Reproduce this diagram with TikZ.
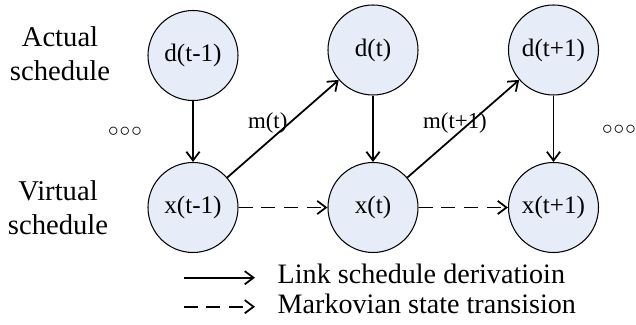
\documentclass[tikz,border=0pt]{standalone}
\usepackage{fontspec}
\setmainfont{Liberation Serif}
\usepackage{tikz}
\usetikzlibrary{arrows.meta}
\definecolor{statefill}{RGB}{230,237,248}

\begin{document}
\begin{tikzpicture}[scale=1,
    state/.style={circle, draw=black, line width=0.6pt, fill=statefill, minimum size=1.8cm, inner sep=0pt, font=\fontsize{14.3}{17}\selectfont},
    side/.style={align=center, font=\fontsize{16.3}{19.3}\selectfont},
    lab/.style={font=\fontsize{13}{15}\selectfont},
    legtext/.style={anchor=base west, font=\fontsize{16}{19}\selectfont},
    derive/.style={line width=1pt, -{Straight Barb[length=5pt,width=7.5pt]}},
    trans/.style={derive, dash pattern=on 8pt off 5pt}]
\useasboundingbox (0,0) rectangle (12.72,6.5);
\node[state] (d1) at (3.86,5.39) {d(t-1)};
\node[state] (d2) at (7.46,5.50) {d(t)};
\node[state] (d3) at (11.07,5.50) {d(t+1)};
\node[state] (x1) at (3.86,2.35) {x(t-1)};
\node[state] (x2) at (7.46,2.35) {x(t)};
\node[state] (x3) at (11.07,2.35) {x(t+1)};
\node[side] (actual) at (1.20,5.42) {Actual\\schedule};
\node[side] (virtual) at (1.16,2.34) {Virtual\\schedule};
\node[lab] (dotsl) at (2.50,3.86) {$\circ\!\circ\!\circ$};
\node[lab] (dotsr) at (12.38,3.90) {$\circ\!\circ\!\circ$};
\draw[derive] (d1) -- (x1);
\draw[derive] (d2) -- (x2);
\draw[derive] (d3) -- (x3);
\draw[derive] (x1) -- (d2) node[lab, pos=0.56, xshift=-0.44cm] (m1) {m(t)};
\draw[derive] (x2) -- (d3) node[lab, pos=0.56, xshift=-0.30cm] (m2) {m(t+1)};
\draw[trans] (x1) -- (x2);
\draw[trans] (x2) -- (x3);
\coordinate (l1a) at (3.67,0.946);
\coordinate (l1b) at (5.10,0.946);
\coordinate (l2a) at (3.67,0.366);
\coordinate (l2b) at (5.10,0.366);
\draw[derive] (l1a) -- (l1b);
\draw[trans] (l2a) -- (l2b);
\node[legtext] (leg1) at (5.43,0.834) {Link schedule derivatioin};
\node[legtext] (leg2) at (5.43,0.234) {Markovian state transision};
\end{tikzpicture}
\end{document}
